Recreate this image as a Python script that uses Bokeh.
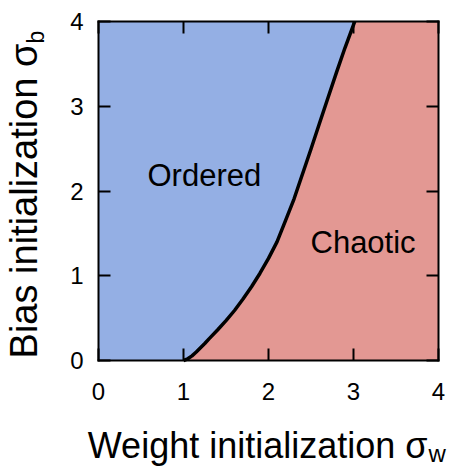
import math
from bokeh.plotting import figure
from bokeh.models import Range1d, FixedTicker, LinearAxis, Label
from bokeh.embed import file_html
from bokeh.resources import INLINE

# Phase boundary (sigma_w, sigma_b)
boundary_w = [1.00, 1.05, 1.10, 1.15, 1.20, 1.25, 1.30, 1.40, 1.50, 1.60, 1.70, 1.80, 1.90, 2.00, 2.10, 2.20, 2.30, 2.40, 2.50, 2.60, 2.70, 2.80, 2.90, 3.00, 3.015]
boundary_b = [0.00, 0.02, 0.055, 0.10, 0.15, 0.20, 0.255, 0.36, 0.47, 0.59, 0.725, 0.87, 1.03, 1.205, 1.40, 1.65, 1.905, 2.20, 2.495, 2.80, 3.10, 3.40, 3.69, 3.96, 4.00]

axis_min = 0
axis_max = 4
tick_values = [0, 1, 2, 3, 4]

FONT = "Liberation Sans"
BLUE = "#94afe4"
RED = "#e39893"

# canvas geometry (pixels)
W, H = 452, 467
left_px, right_px, top_px, bottom_px = 98, 438, 21, 360
ux = (right_px - left_px) / (axis_max - axis_min)
uy = (bottom_px - top_px) / (axis_max - axis_min)

def dx(px):
    return axis_min + (px - left_px) / ux

def dy(py):
    return axis_min + (bottom_px - py) / uy

# the renderer draws an "alphabetic" anchor about 0.35 em lower; compensate
def shift(size):
    return 0.35 * size

p = figure(width=W, height=H, output_backend="svg", toolbar_location=None,
           x_axis_location=None, y_axis_location=None,
           x_range=Range1d(dx(0), dx(W)), y_range=Range1d(dy(H), dy(0)),
           min_border=0)
p.grid.visible = False
p.outline_line_color = None
p.background_fill_color = "white"
p.border_fill_color = "white"

# Regions
ordered_x = [axis_min] + boundary_w + [axis_min]
ordered_y = [axis_min] + boundary_b + [axis_max]
chaotic_x = boundary_w + [axis_max, axis_max]
chaotic_y = boundary_b + [axis_max, axis_min]
p.patch(ordered_x, ordered_y, fill_color=BLUE, line_color=None)
p.patch(chaotic_x, chaotic_y, fill_color=RED, line_color=None)
p.line(boundary_w, boundary_b, line_color="black", line_width=3.5, line_join="round")

def make_axis(loc, labels):
    ax = LinearAxis(fixed_location=loc, bounds=(axis_min, axis_max))
    ax.ticker = FixedTicker(ticks=tick_values)
    ax.axis_line_color = "black"
    ax.axis_line_width = 2
    ax.axis_line_cap = "square"
    ax.major_tick_in = 12
    ax.major_tick_out = 0
    ax.minor_tick_line_color = None
    ax.major_tick_line_width = 2
    ax.major_tick_line_color = "black"
    if labels:
        ax.major_label_text_font = FONT
        ax.major_label_text_font_size = "24px"
        ax.major_label_text_color = "black"
    else:
        ax.major_label_text_color = None
    return ax

xax = make_axis(axis_min, True)
xax.major_label_standoff = 22
yax = make_axis(axis_min, True)
yax.major_label_standoff = 15
p.add_layout(xax, "below")
p.add_layout(yax, "left")
p.add_layout(make_axis(axis_max, False), "above")
p.add_layout(make_axis(axis_max, False), "right")

# Axis titles (with subscripts)
common = dict(text_baseline="alphabetic", text_font=FONT, text_color="black")
p.add_layout(Label(x=dx(427), y=dy(458 - shift(36)), text="Weight initialization σ",
                   text_align="right", text_font_size="36px", **common))
p.add_layout(Label(x=dx(428), y=dy(461 - shift(24)), text="w", text_align="left",
                   text_font_size="24px", **common))
p.add_layout(Label(x=dx(37 - shift(38)), y=dy(43), text="Bias initialization σ",
                   text_align="right", text_font_size="38px", angle=math.pi / 2, **common))
p.add_layout(Label(x=dx(44 - shift(23)), y=dy(43), text="b", text_align="left",
                   text_font_size="23px", angle=math.pi / 2, **common))

# Region names
p.add_layout(Label(x=dx(147), y=dy(186 - shift(31)), text="Ordered", text_align="left",
                   text_font_size="31px", **common))
p.add_layout(Label(x=dx(310), y=dy(253 - shift(31)), text="Chaotic", text_align="left",
                   text_font_size="31px", **common))

open("out.html", "w").write(file_html(p, INLINE))
